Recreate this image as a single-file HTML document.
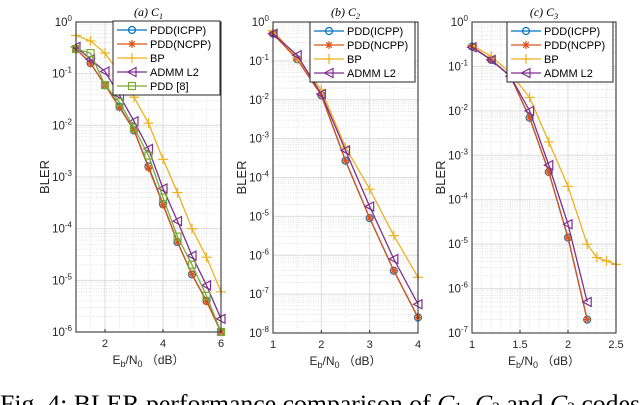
<!DOCTYPE html>
<html><head><meta charset="utf-8"><style>
body{margin:0;width:640px;height:405px;overflow:hidden;background:#fff}
svg{display:block}
text{font-family:"Liberation Sans",sans-serif}
</style></head><body>
<svg id="fig" width="640" height="405" xmlns="http://www.w3.org/2000/svg">
<text x="0" y="412" font-size="25" fill="#000" textLength="640" lengthAdjust="spacingAndGlyphs" style="font-family:'Liberation Serif',serif">Fig. 4: BLER performance comparison of <tspan font-style="italic">C</tspan><tspan font-size="15">1</tspan>, <tspan font-style="italic">C</tspan><tspan font-size="15">2</tspan> and <tspan font-style="italic">C</tspan><tspan font-size="15">3</tspan> codes</text>
</svg>
<script>
// Panel (a) C1
const xA = [1,1.5,2,2.5,3,3.5,4,4.5,5,5.5,6];
const aICPP = [0.3,0.16,0.06,0.023,0.008,1.6e-3,3e-4,5.5e-5,1.3e-5,4e-6,1e-6];
const aNCPP = [0.3,0.16,0.06,0.022,0.008,1.5e-3,2.9e-4,5.5e-5,1.3e-5,3.9e-6,1e-6];
const aBP = [0.55,0.43,0.25,0.1,0.035,0.011,2.2e-3,5e-4,1e-4,2.8e-5,6e-6];
const aADMM = [0.33,0.19,0.11,0.038,0.012,3.5e-3,6e-4,1.4e-4,3e-5,8e-6,1.8e-6];
const aPDD8 = [0.3,0.25,0.06,0.028,0.009,2.6e-3,4e-4,7e-5,2e-5,5e-6,1e-6];
const aXTicks = [2,4,6];
// Panel (b) C2
const xB = [1,1.5,2,2.5,3,3.5,4];
const bICPP = [0.5,0.11,0.013,2.7e-4,9e-6,4e-7,2.5e-8];
const bNCPP = [0.5,0.11,0.013,2.7e-4,9e-6,4e-7,2.5e-8];
const bBP = [0.6,0.12,0.018,6e-4,5e-5,3.2e-6,2.7e-7];
const bADMM = [0.5,0.14,0.014,5e-4,1.8e-5,8e-7,5.5e-8];
const bXTicks = [1,2,3,4];
// Panel (c) C3
const xC = [1,1.2,1.4,1.6,1.8,2,2.2];
const xCbp = [1,1.2,1.4,1.6,1.8,2,2.2,2.3,2.4,2.5];
const cICPP = [0.28,0.14,0.06,0.007,4.2e-4,1.4e-5,2e-7];
const cNCPP = [0.28,0.14,0.06,0.007,4.2e-4,1.4e-5,2e-7];
const cBP = [0.3,0.17,0.07,0.02,2e-3,2e-4,1e-5,5e-6,4.2e-6,3.5e-6];
const cADMM = [0.27,0.14,0.06,0.01,6e-4,2.8e-5,5e-7];
const cXTicks = [1,1.5,2,2.5];

const NS="http://www.w3.org/2000/svg";
const svg=document.getElementById('fig');
const COL={icpp:'#0072BD',ncpp:'#D95319',bp:'#EDB120',admm:'#7E2F8E',pdd8:'#77AC30'};
function mk(t,attrs,parent){const e=document.createElementNS(NS,t);for(const k in attrs)e.setAttribute(k,attrs[k]);(parent||svg).appendChild(e);return e;}

function marker(g,type,x,y,c){
  if(type==='icpp'){mk('circle',{cx:x,cy:y,r:3.5,fill:'none',stroke:c,'stroke-width':1.2},g);}
  else if(type==='ncpp'){for(const a of [0,45,90,135]){const r=a*Math.PI/180;mk('line',{x1:x-4*Math.cos(r),y1:y-4*Math.sin(r),x2:x+4*Math.cos(r),y2:y+4*Math.sin(r),stroke:c,'stroke-width':1.2},g);}}
  else if(type==='bp'){mk('line',{x1:x-5,y1:y,x2:x+5,y2:y,stroke:c,'stroke-width':1.2},g);mk('line',{x1:x,y1:y-5,x2:x,y2:y+5,stroke:c,'stroke-width':1.2},g);}
  else if(type==='admm'){mk('polygon',{points:`${x-4.5},${y} ${x+4},${y-4.5} ${x+4},${y+4.5}`,fill:'none',stroke:c,'stroke-width':1.2},g);}
  else if(type==='pdd8'){mk('rect',{x:x-3.5,y:y-3.5,width:7,height:7,fill:'none',stroke:c,'stroke-width':1.2},g);}
}

function panel(o){
  const g=mk('g',{});
  
  
  const {L,R,T,B,x0,x1,yMinExp}=o;
  const sx=v=>L+(v-x0)/(x1-x0)*(R-L);
  const sy=v=>T+(-Math.log10(v))/(-yMinExp)*(B-T);
  for(let e=yMinExp;e<0;e++){for(let m=2;m<=9;m++){const y=sy(m*Math.pow(10,e));mk('line',{x1:L,x2:R,y1:y,y2:y,stroke:'#d0d0d0','stroke-width':0.6,'stroke-dasharray':'1,1.5'},g);}}
  for(const v of o.xMinor){const x=sx(v);mk('line',{x1:x,x2:x,y1:T,y2:B,stroke:'#d0d0d0','stroke-width':0.6,'stroke-dasharray':'1,1.5'},g);}
  for(let e=yMinExp;e<=0;e++){const y=sy(Math.pow(10,e));mk('line',{x1:L,x2:R,y1:y,y2:y,stroke:'#dcdcdc','stroke-width':1},g);
    const t=mk('text',{x:L-4,y:y+4,'text-anchor':'end','font-size':11.5,fill:'#262626'},g);
    
    
    t.textContent='10';const s=document.createElementNS(NS,'tspan');s.setAttribute('dy','-5');s.setAttribute('font-size','8');s.textContent=String(e);t.appendChild(s);}
  for(const v of o.xTicks){const x=sx(v);mk('line',{x1:x,x2:x,y1:T,y2:B,stroke:'#dcdcdc','stroke-width':1},g);
    mk('line',{x1:x,x2:x,y1:B,y2:B-3,stroke:'#262626'},g);
    const t=mk('text',{x:x,y:B+15,'text-anchor':'middle','font-size':11,fill:'#262626'},g);
    
    
    t.textContent=String(v);}
  for(const s of o.series){
    const sg=mk('g',{},g);
    
    
    const pts=s.x.map((xv,i)=>sx(xv)+','+sy(s.y[i])).join(' ');
    mk('polyline',{points:pts,fill:'none',stroke:COL[s.type],'stroke-width':1.3},sg);
    s.x.forEach((xv,i)=>marker(sg,s.type,sx(xv),sy(s.y[i]),COL[s.type]));
  }
  mk('rect',{x:L,y:T,width:R-L,height:B-T,fill:'none',stroke:'#262626','stroke-width':1},g);
  const tt=mk('text',{x:(L+R)/2,y:T-6,'text-anchor':'middle','font-size':12,'font-style':'italic',fill:'#000',style:"font-family:'Liberation Serif',serif"},g);
  
  
  tt.textContent='('+o.letter+') C';const ts=document.createElementNS(NS,'tspan');ts.setAttribute('dy','3');ts.setAttribute('font-size','8');ts.textContent=o.sub;tt.appendChild(ts);
  const yl=mk('text',{x:0,y:0,'text-anchor':'middle','font-size':13,fill:'#262626',transform:`translate(${L-27},${(T+B)/2}) rotate(-90)`},g);
  
  
  yl.textContent='BLER';
  const xl=mk('text',{x:(L+R)/2,y:B+32,'text-anchor':'middle','font-size':12,fill:'#262626'},g);
  
  
  xl.innerHTML='E<tspan dy="3" font-size="9">b</tspan><tspan dy="-3">/N</tspan><tspan dy="3" font-size="9">0</tspan><tspan dy="-3"> （dB）</tspan>';
  const lg=mk('g',{},g);
  
  
  const lx=o.leg[0],ly=o.leg[1],lw=o.leg[2];
  const names={icpp:'PDD(ICPP)',ncpp:'PDD(NCPP)',bp:'BP',admm:'ADMM L2',pdd8:'PDD [8]'};
  const n=o.series.length;
  mk('rect',{x:lx,y:ly,width:lw,height:n*14+4,fill:'#fff',stroke:'#262626','stroke-width':1},lg);
  o.series.forEach((s,i)=>{const y=ly+9+i*14;
    const e=mk('g',{},lg);
    
    
    mk('line',{x1:lx+4,x2:lx+34,y1:y,y2:y,stroke:COL[s.type],'stroke-width':1.3},e);
    marker(e,s.type,lx+19,y,COL[s.type]);
    const t=mk('text',{x:lx+37,y:y+4,'font-size':11,fill:'#000'},e);t.textContent=names[s.type];});
}

panel({name:'panel-a-c1',letter:'a',sub:'1',L:76,R:221,T:22,B:332,x0:1,x1:6,yMinExp:-6,xTicks:aXTicks,xMinor:[1,1.5,2.5,3,3.5,4.5,5,5.5],leg:[113,21,107],
  series:[{type:'icpp',x:xA,y:aICPP},{type:'ncpp',x:xA,y:aNCPP},{type:'bp',x:xA,y:aBP},{type:'admm',x:xA,y:aADMM},{type:'pdd8',x:xA,y:aPDD8}]});
panel({name:'panel-b-c2',letter:'b',sub:'2',L:273,R:418,T:22,B:333,x0:1,x1:4,yMinExp:-8,xTicks:bXTicks,xMinor:[1.5,2.5,3.5],leg:[310,22,105],
  series:[{type:'icpp',x:xB,y:bICPP},{type:'ncpp',x:xB,y:bNCPP},{type:'bp',x:xB,y:bBP},{type:'admm',x:xB,y:bADMM}]});
panel({name:'panel-c-c3',letter:'c',sub:'3',L:472,R:616,T:22,B:333,x0:1,x1:2.5,yMinExp:-7,xTicks:cXTicks,xMinor:[1.1,1.2,1.3,1.4,1.6,1.7,1.8,1.9,2.1,2.2,2.3,2.4],leg:[507,22,106],
  series:[{type:'icpp',x:xC,y:cICPP},{type:'ncpp',x:xC,y:cNCPP},{type:'bp',x:xCbp,y:cBP},{type:'admm',x:xC,y:cADMM}]});
</script>
</body></html>
